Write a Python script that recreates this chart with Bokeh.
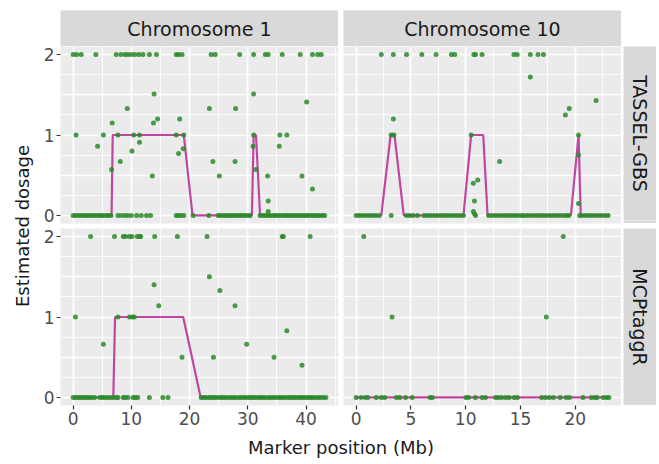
import math
from bokeh.plotting import figure
from bokeh.layouts import row, column
from bokeh.models import Range1d, LinearAxis, Grid, FixedTicker, Spacer
from bokeh.core.properties import value
from bokeh.embed import file_html
from bokeh.resources import INLINE

# ---------------- data ----------------
chrom_labels = ["Chromosome 1", "Chromosome 10"]
method_labels = ["TASSEL-GBS", "MCPtaggR"]
xlabel = "Marker position (Mb)"
ylabel = "Estimated dosage"

chr1_ticks = [0, 10, 20, 30, 40]
chr1_minor = [5, 15, 25, 35, 45]
chr10_ticks = [0, 5, 10, 15, 20]
chr10_minor = [2.5, 7.5, 12.5, 17.5, 22.5]
dosage_ticks = [0, 1, 2]

# Chromosome 1, TASSEL-GBS
t1_zero_pos = [0.0, 0.4, 0.9, 1.3, 1.8, 2.2, 2.6, 3.1, 3.5, 3.9, 4.4, 4.8, 5.2, 5.7, 6.1, 6.5,
               7.7, 8.3, 8.9, 9.4, 10.0, 10.9, 11.7, 12.6, 13.3, 17.7, 18.1, 18.5, 19.0,
               20.6, 23.3, 24.9, 25.3, 25.8, 26.2, 26.6, 27.0, 27.4, 27.9, 28.3, 28.7, 29.1,
               29.5, 30.0, 30.4, 32.1, 32.6, 33.0, 33.4, 33.8, 34.3, 34.7, 35.1, 35.5, 36.0,
               36.4, 36.8, 37.2, 37.7, 38.1, 38.5, 38.9, 39.4, 39.8, 40.2, 40.6, 41.1, 41.5,
               41.9, 42.3, 42.8, 43.2]
t1_two_pos = [0.0, 0.6, 1.4, 3.9, 7.4, 8.2, 8.9, 9.4, 10.0, 10.6, 11.3, 12.0, 13.1, 14.3,
              17.7, 18.1, 18.7, 23.7, 24.4, 28.6, 31.0, 33.0, 33.5, 35.9, 39.0, 41.1, 42.0, 42.6]
t1_mid_pos = [13.9, 31.0, 9.3, 23.4, 27.9, 40.1, 6.7, 13.8, 14.5, 18.3,
              0.5, 5.2, 7.7, 10.4, 11.4, 17.7, 19.0, 31.0, 35.5, 36.7,
              4.2, 11.4, 10.1, 18.1, 18.9, 30.9, 35.4, 8.1, 24.0, 27.8,
              6.6, 31.4, 13.6, 25.1, 33.4, 39.3, 41.1, 33.5, 33.5]
t1_mid_dos = [1.51, 1.51, 1.33, 1.33, 1.33, 1.41, 1.15, 1.15, 1.2, 1.2,
              1.0, 1.0, 1.0, 1.0, 1.0, 1.0, 1.0, 1.0, 1.0, 1.0,
              0.86, 0.91, 0.8, 0.77, 0.83, 0.86, 0.86, 0.67, 0.67, 0.67,
              0.57, 0.57, 0.49, 0.49, 0.49, 0.49, 0.33, 0.18, 0.05]
t1_line_pos = [0.0, 6.6, 6.8, 19.0, 20.5, 30.7, 31.0, 31.4, 32.1, 43.2]
t1_line_dos = [0, 0, 1, 1, 0, 0, 1, 1, 0, 0]

# Chromosome 10, TASSEL-GBS
t10_zero_pos = [0.0, 0.3, 0.6, 0.9, 1.2, 1.5, 1.8, 2.1, 3.2, 4.6, 4.9, 5.2, 5.6,
                6.2, 6.5, 6.8, 7.1, 7.4, 7.7, 8.0, 8.3, 8.6, 8.9, 9.2, 9.5, 9.8,
                10.9, 12.1, 12.4, 12.7, 13.0, 13.3, 13.6, 13.9, 14.2, 14.5, 14.8, 15.1, 15.3,
                15.6, 15.9, 16.2, 16.5, 16.8, 17.1, 17.4, 17.7, 18.0, 18.3, 18.6, 18.9, 19.2, 19.4,
                20.4, 20.6, 20.9, 21.2, 21.5, 21.8, 22.1, 22.4, 22.7, 23.0]
t10_two_pos = [2.3, 3.4, 4.6, 6.0, 7.3, 8.7, 9.0, 10.75, 10.9, 11.5, 14.4, 14.7, 15.9, 16.6, 17.1]
t10_mid_pos = [15.9, 21.9, 19.45, 19.1, 3.4, 3.2, 3.45, 10.5, 20.3, 20.3,
               13.1, 11.1, 10.7, 10.8, 20.3, 10.7, 10.8]
t10_mid_dos = [1.72, 1.43, 1.33, 1.25, 1.2, 1.0, 1.0, 1.0, 1.0, 0.75,
               0.67, 0.44, 0.4, 0.18, 0.15, 0.05, 0.02]
t10_line_pos = [0.0, 2.3, 3.15, 3.5, 4.35, 9.8, 10.5, 11.6, 12.0, 19.6, 20.3, 20.5, 23.07]
t10_line_dos = [0, 0, 1, 1, 0, 0, 1, 1, 0, 0, 1, 0, 0]

# Chromosome 1, MCPtaggR
m1_zero_pos = [0.0, 0.4, 0.8, 1.2, 1.6, 2.0, 2.4, 2.8, 3.2, 3.7, 4.6, 5.0, 5.4, 5.9, 6.4, 6.9,
               7.4, 7.7, 8.6, 8.9, 9.4, 10.3, 10.7, 11.1, 13.1, 15.4, 16.3,
               22.0, 22.4, 22.8, 23.3, 23.7, 24.1, 24.5, 25.0, 25.4, 25.8, 26.2, 26.7, 27.1,
               27.5, 27.9, 28.4, 28.8, 29.2, 29.6, 30.1, 30.5, 30.9, 31.3, 31.8, 32.2, 32.6,
               33.0, 33.5, 33.9, 34.3, 34.7, 35.2, 35.6, 36.0, 36.4, 36.9, 37.3, 37.7, 38.1,
               38.6, 39.0, 39.4, 39.8, 40.3, 40.7, 41.1, 41.5, 42.0, 42.4, 42.9, 43.4]
m1_two_pos = [3.0, 7.1, 8.6, 9.0, 9.7, 10.1, 11.0, 11.4, 11.6, 14.0, 17.9, 23.0, 35.9, 36.1, 40.7]
m1_mid_pos = [23.4, 13.9, 25.2, 14.7, 27.8, 0.4, 7.7, 9.7, 10.2, 10.5,
              36.7, 5.2, 29.8, 18.7, 24.1, 34.5, 39.3]
m1_mid_dos = [1.5, 1.4, 1.33, 1.14, 1.14, 1.0, 1.0, 1.0, 1.0, 1.0,
              0.83, 0.66, 0.66, 0.5, 0.5, 0.5, 0.4]
m1_line_pos = [0.0, 6.9, 7.2, 18.9, 21.9, 43.4]
m1_line_dos = [0, 0, 1, 1, 0, 0]

# Chromosome 10, MCPtaggR
m10_zero_pos = [0.0, 0.46, 0.83, 1.07, 1.84, 2.3, 2.61, 3.68, 3.99, 4.51, 5.12, 6.75, 6.96,
                10.03, 10.28, 10.89, 11.5, 11.81, 12.73, 12.98, 13.28, 13.65, 13.96, 14.42,
                14.72, 16.93, 17.27, 17.64, 18.01, 18.62, 19.17, 19.48, 20.71, 21.47, 21.78,
                21.99, 22.55, 22.85, 23.07]
m10_two_pos = [0.7, 18.9]
m10_mid_pos = [3.28, 17.36]
m10_mid_dos = [1.0, 1.0]
m10_line_pos = [0.0, 23.07]
m10_line_dos = [0, 0]

# ---------------- style ----------------
FONT = "DejaVu Sans"
PANEL_BG = "#ebebeb"
STRIP_BG = "#d9d9d9"
PT_COLOR = "#2a8a2a"
LINE_COLOR = "#bf47a0"
TICK_COLOR = "#4d4d4d"

FRAME_W = 278
FRAME_H = 177
LEFT_AX = 22
BOTTOM_AX = 26
YLAB_W = 30
STRIP_H = 36
TOP_PAD = 10
GAP_TOP = 3      # border under top-row panels
GAP_BOT = 2      # border above bottom-row panels
XLAB_H = 28


def points_of(zero, two, mid_pos, mid_dos):
    xs = list(zero) + list(two) + list(mid_pos)
    ys = [0.0] * len(zero) + [2.0] * len(two) + list(mid_dos)
    return xs, ys


def panel(xrange_, ticks, minor, pts, line, left_axis, bottom_axis, btop, bbot):
    w = FRAME_W + (LEFT_AX if left_axis else 0)
    h = FRAME_H + btop + bbot
    p = figure(width=w, height=h, x_range=Range1d(*xrange_), y_range=Range1d(-0.1, 2.1),
               x_axis_location=None, y_axis_location=None, toolbar_location=None,
               output_backend="svg", title=None, min_border=0,
               min_border_left=LEFT_AX if left_axis else 0, min_border_right=0,
               min_border_top=btop, min_border_bottom=bbot)
    p.background_fill_color = PANEL_BG
    p.border_fill_color = "white"
    p.outline_line_color = None
    p.grid.visible = False
    p.add_layout(Grid(dimension=0, ticker=FixedTicker(ticks=ticks, minor_ticks=minor),
                      grid_line_color="white", grid_line_width=1.7,
                      minor_grid_line_color="white", minor_grid_line_width=0.9))
    p.add_layout(Grid(dimension=1, ticker=FixedTicker(ticks=[0, 0.5, 1, 1.5, 2],
                                                      minor_ticks=[0.25, 0.75, 1.25, 1.75]),
                      grid_line_color="white", grid_line_width=1.4,
                      minor_grid_line_color="white", minor_grid_line_width=0.9))
    if left_axis:
        p.add_layout(LinearAxis(ticker=FixedTicker(ticks=dosage_ticks)), "left")
    if bottom_axis:
        p.add_layout(LinearAxis(ticker=FixedTicker(ticks=ticks)), "below")
    for ax in p.axis:
        ax.axis_line_color = None
        ax.major_tick_line_color = "#333333"
        ax.major_tick_line_width = 1.2
        ax.major_tick_out = 4
        ax.major_tick_in = 0
        ax.minor_tick_line_color = None
        ax.major_label_text_font = FONT
        ax.major_label_text_font_size = "17px"
        ax.major_label_text_color = TICK_COLOR
        ax.major_label_standoff = 2
    p.line(line[0], line[1], line_color=LINE_COLOR, line_width=2.2)
    p.scatter(pts[0], pts[1], size=5, fill_color=PT_COLOR, line_color=None, fill_alpha=0.85)
    return p


def strip(text, w, h, angle):
    p = figure(width=w, height=h, x_range=Range1d(0, 1), y_range=Range1d(0, 1),
               x_axis_location=None, y_axis_location=None, toolbar_location=None,
               output_backend="svg", title=None, min_border=0)
    p.background_fill_color = STRIP_BG
    p.border_fill_color = STRIP_BG
    p.outline_line_color = None
    p.grid.visible = False
    p.text(x=[0.5], y=[0.5], text=[text], angle=angle, text_align="center",
           text_baseline="middle", text_font=value(FONT), text_font_size="19px",
           text_color="#1a1a1a")
    return p


chr1_range = (-2.17, 45.57)
chr10_range = (-1.15, 24.22)

tl = panel(chr1_range, chr1_ticks, chr1_minor,
           points_of(t1_zero_pos, t1_two_pos, t1_mid_pos, t1_mid_dos),
           (t1_line_pos, t1_line_dos), True, False, 0, GAP_TOP)
tr = panel(chr10_range, chr10_ticks, chr10_minor,
           points_of(t10_zero_pos, t10_two_pos, t10_mid_pos, t10_mid_dos),
           (t10_line_pos, t10_line_dos), False, False, 0, GAP_TOP)
bl = panel(chr1_range, chr1_ticks, chr1_minor,
           points_of(m1_zero_pos, m1_two_pos, m1_mid_pos, m1_mid_dos),
           (m1_line_pos, m1_line_dos), True, True, GAP_BOT, BOTTOM_AX)
br = panel(chr10_range, chr10_ticks, chr10_minor,
           points_of(m10_zero_pos, m10_two_pos, m10_mid_pos, m10_mid_dos),
           (m10_line_pos, m10_line_dos), False, True, GAP_BOT, BOTTOM_AX)

s1 = strip(chrom_labels[0], FRAME_W, STRIP_H, 0)
s2 = strip(chrom_labels[1], FRAME_W, STRIP_H, 0)
r1 = strip(method_labels[0], 33, FRAME_H, -math.pi / 2)
r2 = strip(method_labels[1], 33, FRAME_H, -math.pi / 2)

panels_w = LEFT_AX + FRAME_W + 5 + FRAME_W
xl = figure(width=panels_w, height=XLAB_H, x_range=Range1d(0, panels_w), y_range=Range1d(XLAB_H, 0),
            x_axis_location=None, y_axis_location=None, toolbar_location=None,
            output_backend="svg", title=None, min_border=0)
xl.outline_line_color = None
xl.grid.visible = False
xl.text(x=[LEFT_AX + (FRAME_W * 2 + 5) / 2], y=[16], text=[xlabel], text_align="center",
        text_baseline="middle", text_font=value(FONT), text_font_size="18px", text_color="#1a1a1a")

TOTAL_H = TOP_PAD + STRIP_H + (FRAME_H + GAP_TOP) + (GAP_BOT + FRAME_H + BOTTOM_AX) + XLAB_H
yl = figure(width=YLAB_W, height=TOTAL_H, x_range=Range1d(0, YLAB_W), y_range=Range1d(TOTAL_H, 0),
            x_axis_location=None, y_axis_location=None, toolbar_location=None,
            output_backend="svg", title=None, min_border=0)
yl.outline_line_color = None
yl.grid.visible = False
yl.text(x=[14], y=[TOP_PAD + STRIP_H + FRAME_H + 2.5], text=[ylabel], angle=math.pi / 2,
        text_align="center", text_baseline="middle", text_font=value(FONT),
        text_font_size="18px", text_color="#1a1a1a")

main = column(
    Spacer(width=10, height=TOP_PAD),
    row(Spacer(width=LEFT_AX, height=STRIP_H), s1, Spacer(width=5, height=STRIP_H), s2),
    row(tl, Spacer(width=5, height=FRAME_H), tr, Spacer(width=2, height=FRAME_H), r1),
    row(bl, Spacer(width=5, height=FRAME_H), br, Spacer(width=2, height=FRAME_H),
        column(Spacer(width=33, height=GAP_BOT), r2)),
    xl,
)
layout = row(Spacer(width=8, height=TOTAL_H), yl, main)

open("out.html", "w").write(file_html(layout, INLINE))
